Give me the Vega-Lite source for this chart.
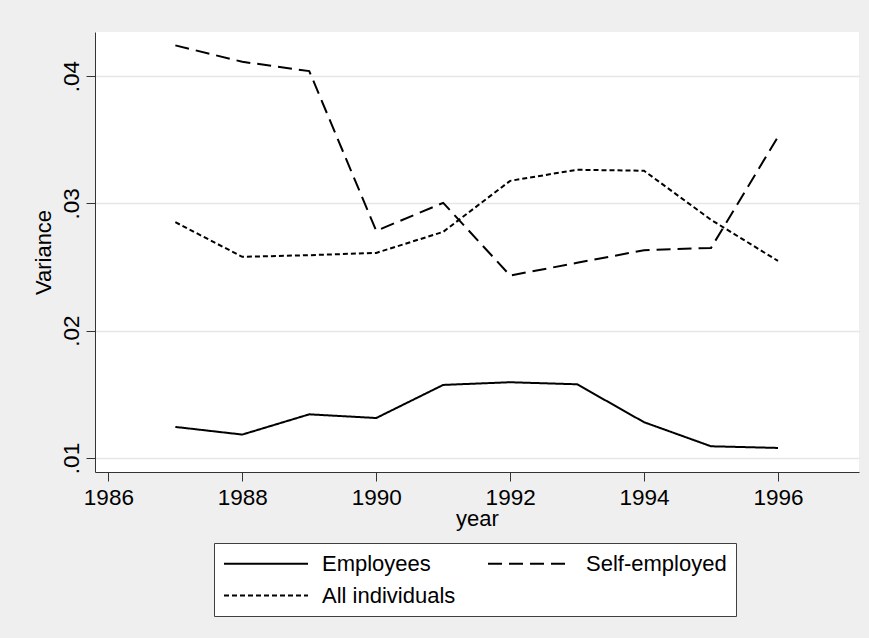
{
  "$schema": "https://vega.github.io/schema/vega-lite/v6.json",
  "width": 764,
  "height": 440,
  "autosize": "none",
  "padding": {"left": 95, "top": 32, "right": 10, "bottom": 166},
  "background": "#EFEFEF",
  "config": {
    "view": {"fill": "white", "stroke": null},
    "font": "Liberation Sans"
  },
  "data": {
    "values": [
      {"year": 1987, "series": "Employees", "v": 0.01244},
      {"year": 1988, "series": "Employees", "v": 0.01184},
      {"year": 1989, "series": "Employees", "v": 0.01343},
      {"year": 1990, "series": "Employees", "v": 0.01314},
      {"year": 1991, "series": "Employees", "v": 0.01574},
      {"year": 1992, "series": "Employees", "v": 0.01595},
      {"year": 1993, "series": "Employees", "v": 0.01579},
      {"year": 1994, "series": "Employees", "v": 0.01281},
      {"year": 1995, "series": "Employees", "v": 0.01092},
      {"year": 1996, "series": "Employees", "v": 0.01079},
      {"year": 1987, "series": "Self-employed", "v": 0.04241},
      {"year": 1988, "series": "Self-employed", "v": 0.04112},
      {"year": 1989, "series": "Self-employed", "v": 0.04039},
      {"year": 1990, "series": "Self-employed", "v": 0.02784},
      {"year": 1991, "series": "Self-employed", "v": 0.03004},
      {"year": 1992, "series": "Self-employed", "v": 0.02433},
      {"year": 1993, "series": "Self-employed", "v": 0.02533},
      {"year": 1994, "series": "Self-employed", "v": 0.02632},
      {"year": 1995, "series": "Self-employed", "v": 0.02650},
      {"year": 1996, "series": "Self-employed", "v": 0.03523},
      {"year": 1987, "series": "All individuals", "v": 0.02852},
      {"year": 1988, "series": "All individuals", "v": 0.02580},
      {"year": 1989, "series": "All individuals", "v": 0.02593},
      {"year": 1990, "series": "All individuals", "v": 0.02611},
      {"year": 1991, "series": "All individuals", "v": 0.02776},
      {"year": 1992, "series": "All individuals", "v": 0.03177},
      {"year": 1993, "series": "All individuals", "v": 0.03264},
      {"year": 1994, "series": "All individuals", "v": 0.03256},
      {"year": 1995, "series": "All individuals", "v": 0.02871},
      {"year": 1996, "series": "All individuals", "v": 0.02548}
    ]
  },
  "mark": {"type": "line", "color": "black", "strokeWidth": 2},
  "encoding": {
    "x": {
      "field": "year",
      "type": "quantitative",
      "scale": {"domain": [1985.8, 1997.21], "nice": false, "zero": false},
      "axis": {
        "values": [1986, 1988, 1990, 1992, 1994, 1996],
        "format": "d",
        "grid": false,
        "domainColor": "#333333",
        "tickColor": "#333333",
        "tickSize": 9,
        "labelFontSize": 22.5,
        "labelColor": "black",
        "labelPadding": 5,
        "labelFlush": false,
        "labelOverlap": false,
        "title": "year",
        "titleFontSize": 22,
        "titleFontWeight": "normal",
        "titleColor": "black",
        "titlePadding": 0
      }
    },
    "y": {
      "field": "v",
      "type": "quantitative",
      "scale": {"domain": [0.0089, 0.04346], "nice": false, "zero": false},
      "axis": {
        "values": [0.01, 0.02, 0.03, 0.04],
        "labelExpr": "replace(format(datum.value, '.2f'), '0.', '.')",
        "grid": true,
        "gridColor": "#E6E6E6",
        "gridWidth": 1.5,
        "domainColor": "#333333",
        "tickColor": "#333333",
        "tickSize": 9,
        "labelAngle": 270,
        "labelFontSize": 22.5,
        "labelColor": "black",
        "labelPadding": 3,
        "labelOverlap": false,
        "title": "Variance",
        "titleFontSize": 22,
        "titleFontWeight": "normal",
        "titleColor": "black",
        "titlePadding": 5
      }
    },
    "strokeDash": {
      "field": "series",
      "type": "nominal",
      "scale": {
        "domain": ["Employees", "Self-employed", "All individuals"],
        "range": [[1, 0], [14, 7], [5, 3]]
      },
      "legend": {
        "orient": "none",
        "legendX": 119,
        "legendY": 511,
        "columns": 2,
        "direction": "horizontal",
        "title": null,
        "labelFontSize": 22,
        "labelColor": "black",
        "symbolType": "M-1,0H7",
        "symbolSize": 441,
        "symbolStrokeWidth": 2,
        "symbolStrokeColor": "black",
        "labelOffset": 76,
        "columnPadding": 28,
        "rowPadding": 9,
        "padding": 9,
        "strokeColor": "#404040",
        "fillColor": "white"
      }
    }
  }
}
